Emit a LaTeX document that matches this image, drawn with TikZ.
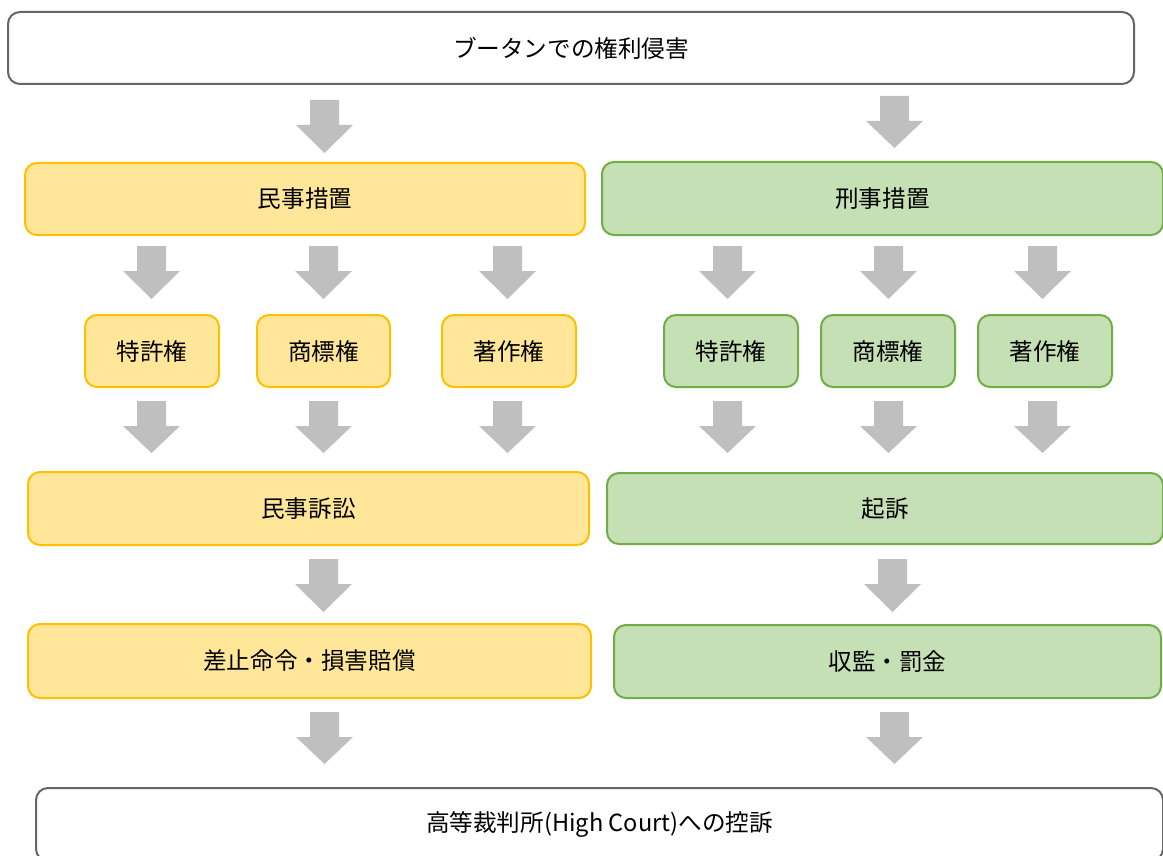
\documentclass[tikz,border=0pt]{standalone}
\usepackage{fontspec}
\setmainfont{Noto Sans CJK JP}
\definecolor{boxgray}{HTML}{666666}
\definecolor{ybord}{HTML}{FFC000}
\definecolor{yfill}{HTML}{FFE699}
\definecolor{gbord}{HTML}{70AD47}
\definecolor{gfill}{HTML}{C5E0B4}
\definecolor{arrowgray}{HTML}{BFBFBF}
\newcommand\blkarrow[3]{%
  \fill[arrowgray] (#1-14.5,#2) -- (#1+14.5,#2) -- (#1+14.5,#2+25) -- (#1+28.5,#2+25)
    -- (#1,#3) -- (#1-28.5,#2+25) -- (#1-14.5,#2+25) -- cycle;}
\begin{document}
\begin{tikzpicture}[x=1pt,y=-1pt,
  box/.style={draw, line width=2pt, rounded corners=12pt, anchor=north west,
    inner sep=0pt, font=\fontsize{23.6}{28}\selectfont, text=black},
  graybox/.style={box, draw=boxgray, fill=white},
  ybox/.style={box, draw=ybord, fill=yfill},
  gbox/.style={box, draw=gbord, fill=gfill}]
\clip (0,0) rectangle (1163,856);
% top
\node[graybox, minimum width=1126pt, minimum height=72pt] (top) at (7,11) {ブータンでの権利侵害};
\blkarrow{324.5}{100}{153}
\blkarrow{894.5}{96}{148}
% level 1
\node[ybox, minimum width=560pt, minimum height=72pt] (civil) at (24,162) {民事措置};
\node[gbox, minimum width=561pt, minimum height=73pt] (crim) at (601,161) {刑事措置};
\foreach \x in {151.5,323.5,507.5,727.5,888.5,1042.5}{\blkarrow{\x}{246}{299}}
% level 2
\node[ybox, minimum width=134pt, minimum height=72pt] (cpat) at (84,314) {特許権};
\node[ybox, minimum width=133pt, minimum height=72pt] (ctm) at (256,314) {商標権};
\node[ybox, minimum width=134pt, minimum height=72pt] (ccopy) at (441,314) {著作権};
\node[gbox, minimum width=134pt, minimum height=72pt] (kpat) at (663,314) {特許権};
\node[gbox, minimum width=134pt, minimum height=72pt] (ktm) at (820,314) {商標権};
\node[gbox, minimum width=134pt, minimum height=72pt] (kcopy) at (977,314) {著作権};
\foreach \x in {151.5,323.5,507.5,727.5,888.5,1042.5}{\blkarrow{\x}{401}{453}}
% level 3
\node[ybox, minimum width=561pt, minimum height=73pt] (suit) at (27,471) {民事訴訟};
\node[gbox, minimum width=556pt, minimum height=71pt] (pros) at (606,472) {起訴};
\blkarrow{323.5}{559}{612}
\blkarrow{892.5}{559}{612}
% level 4
\node[ybox, minimum width=563pt, minimum height=74pt] (inj) at (27,623) {差止命令・損害賠償};
\node[gbox, minimum width=547pt, minimum height=73pt] (jail) at (613,624) {収監・罰金};
\blkarrow{324.5}{712}{764}
\blkarrow{894.5}{712}{764}
% bottom
\node[graybox, minimum width=1127pt, minimum height=73pt] (appeal) at (35,787) {高等裁判所(High Court)への控訴};
\end{tikzpicture}
\end{document}
